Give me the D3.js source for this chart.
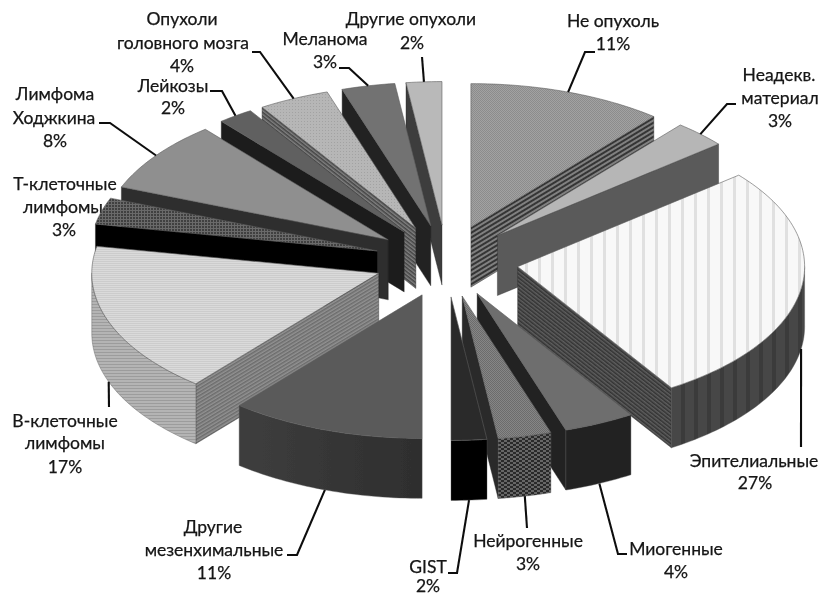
<!DOCTYPE html>
<html><head><meta charset="utf-8">
<script src="https://cdn.jsdelivr.net/npm/d3@7"></script>
<style>html,body{margin:0;padding:0;background:#fff}svg{display:block}text{font-family:Lato,"Open Sans",sans-serif;font-size:17.5px;fill:#141414;stroke:#141414;stroke-width:.25;text-anchor:middle}</style>
</head><body><svg id="c" width="818" height="597"></svg>
<script>
// Data (clockwise from 12 o'clock)
const categories=["Не опухоль","Неадекв. материал","Эпителиальные","Миогенные","Нейрогенные","GIST","Другие мезенхимальные","В-клеточные лимфомы","Т-клеточные лимфомы","Лимфома Ходжкина","Лейкозы","Опухоли головного мозга","Меланома","Другие опухоли"];
const values=[11,3,27,4,3,2,11,17,3,8,2,4,3,2];

// Label layout: text lines with centre x / baselines, leader elbow points
const labelLines=[
 [["Не опухоль",613,27],["%",613,50]],
 [["Неадекв.",779,81],["материал",780,104],["%",780,127]],
 [["Эпителиальные",754,467],["%",755,489]],
 [["Миогенные",676,555],["%",676,578]],
 [["Нейрогенные",528,547],["%",528,570]],
 [["GIST",428,573],["%",428,592]],
 [["Другие",213,533],["мезенхимальные",214,556],["%",214,579]],
 [["В-клеточные",65,427],["лимфомы",65,449],["%",65,473]],
 [["Т-клеточные",65,190],["лимфомы",63,213],["%",64,236]],
 [["Лимфома",55,100],["Ходжкина",54,124],["%",55,147]],
 [["Лейкозы",173,92],["%",173,114]],
 [["Опухоли",182,25],["головного мозга",183,49],["%",182,72]],
 [["Меланома",325,45],["%",325,68]],
 [["Другие опухоли",411,25],["%",412,49]]];
const leaderBends=[
 [[585,52],[595,52]],[[727,104],[736,104]],[[801,447]],[[618,554],[627,554]],[[527,528]],
 [[457,573],[448,573]],[[297,555],[287,555]],[[109,407]],null,[[110,123],[99,123]],
 [[222,91],[210,91]],[[260,52],[252,52]],[[349,68],[339,68]],[[422,57]]];

// Styles per slice: top face, radial wall, outer wall
const topFill=["p-hatch1","#b6b6b6","p-vert","#6e6e6e","p-hatch2","#2a2a2a","#5a5a5a","p-fine","p-cross","#8f8f8f","#616161","p-dots","#727272","#b9b9b9"];
const wallFill=["s:#343434:#808080:4","#5a5a5a","s:#333:#5e5e5e:3","#222","#2a2a2a","#2a2a2a","#333","s:#6c6c6c:#929292:3","#000","#2d2d2d","#1c1c1c","s:#444:#808080:3","#222","#3c3c3c"];
const rimFill=["#333","#5a5a5a","p-vertdark","#232323","p-check","#000","url(#g-mez)","p-wave","#333","#333","#222","#444","#222","#3c3c3c"];

const svg=d3.select("#c");
const defs=svg.append("defs");
defs.append("filter").attr("id","soft").append("feGaussianBlur").attr("stdDeviation",0.5);
const g=defs.append("linearGradient").attr("id","g-mez");
g.append("stop").attr("offset",0).attr("stop-color","#3e3e3e");
g.append("stop").attr("offset",1).attr("stop-color","#2e2e2e");
function pat(id,w,h,bg,draw,tr){
  const p=defs.append("pattern").attr("id",id).attr("width",w).attr("height",h).attr("patternUnits","userSpaceOnUse");
  if(tr)p.attr("patternTransform",tr);
  p.append("rect").attr("width",w).attr("height",h).attr("fill",bg);
  draw(p);
}
const R=(p,x,y,w,h,c)=>p.append("rect").attr("x",x).attr("y",y).attr("width",w).attr("height",h).attr("fill",c);
pat("p-hatch1",2,2,"#a2a2a2",p=>{R(p,0,0,1,1,"#8c8c8c");R(p,1,1,1,1,"#8c8c8c");});
pat("p-hatch2",2,2,"#868686",p=>{R(p,0,0,1,1,"#6c6c6c");R(p,1,1,1,1,"#6c6c6c");});
pat("p-vert",13,4,"#f8f8f8",p=>R(p,5,0,3,4,"#e0e0e0"));
pat("p-vertdark",13,4,"#474747",p=>R(p,5,0,4,4,"#3a3a3a"));
pat("p-fine",2,2,"#dadada",p=>R(p,0,1,2,1,"#cccccc"));
pat("p-wave",2,3,"#b4b4b4",p=>R(p,0,1,2,1,"#9c9c9c"));
pat("p-cross",3,3,"#404040",p=>{R(p,0,0,1,3,"#6a6a6a");R(p,0,0,3,1,"#6a6a6a");});
pat("p-dots",3,3,"#b6b6b6",p=>R(p,1,1,1,1,"#a2a2a2"));
pat("p-check",6,4,"#2a2a2a",p=>{R(p,0,0,3,2,"#666");R(p,3,2,3,2,"#666");});

// Projection of the tilted, exploded pie
const cx=446.5,cy=261,radius=287,tilt=0.5,explode=72,depth=60;
const px=d3.scaleLinear().domain([0,1]).range([0,radius]);
const py=d3.scaleLinear().domain([0,1]).range([0,radius*tilt]);
const rx=d3.scaleLinear().domain([0,1]).range([0,explode]);
const ry=d3.scaleLinear().domain([0,1]).range([0,explode*tilt]);
const arcs=d3.pie().sort(null).value(v=>v)(values).map((a,i)=>{
  const mid=(a.startAngle+a.endAngle)/2;
  return {i,start:a.startAngle,end:a.endAngle,mid,ax:cx+rx(Math.sin(mid)),ay:cy-ry(Math.cos(mid))};
});
const rim=(d,t,dz=0)=>[d.ax+px(Math.sin(t)),d.ay-py(Math.cos(t))+dz];
const samples=(a,b)=>{const n=Math.max(2,Math.ceil((b-a)/0.02));return d3.range(n+1).map(k=>a+(b-a)*k/n);};
const line=d3.line();
let wallPat=0;
function paint(f,angle){
  if(f.startsWith("s:")){
    const [,c1,c2,per]=f.split(":");const id="w"+(wallPat++);
    pat(id,8,+per,c1,p=>R(p,0,0,8,per/2,c2),`rotate(${angle})`);
    return `url(#${id})`;
  }
  if(f.startsWith("p-"))return `url(#${f})`;
  return f;
}

const root=svg.append("g").attr("filter","url(#soft)");
// Texts sit beneath the pie
const tg=root.append("g");
labelLines.forEach((ls,i)=>ls.forEach(([t,x,y])=>tg.append("text").attr("x",x).attr("y",y).text(t==="%"?values[i]+"%":t)));

const order=arcs.slice().sort((a,b)=>d3.descending(Math.cos(a.mid),Math.cos(b.mid)));
const pg=root.append("g");
const HALF=Math.PI;
order.forEach(d=>{
  const i=d.i,gs=pg.append("g");
  // radial wall facing the viewer
  const wt=d.mid<HALF?d.end:d.start;
  const vis=d.mid<HALF?(d.end<HALF-1e-6):(d.start>HALF+1e-6);
  if(vis){
    const p=rim(d,wt),q=rim(d,wt,depth);
    const ang=Math.atan2(p[1]-d.ay,p[0]-d.ax)*180/Math.PI;
    gs.append("path").attr("d",line([[d.ax,d.ay],p,q,[d.ax,d.ay+depth]])+"Z")
      .attr("fill",paint(wallFill[i],ang)).attr("stroke","#2a2a2a").attr("stroke-width",0.4);
  }
  // outer wall on the front half
  const a0=Math.max(d.start,HALF/2),a1=Math.min(d.end,HALF*1.5);
  if(a1>a0){
    const ts=samples(a0,a1);
    const pts=ts.map(t=>rim(d,t)).concat(ts.slice().reverse().map(t=>rim(d,t,depth)));
    gs.append("path").attr("d",line(pts)+"Z").attr("fill",paint(rimFill[i],0)).attr("stroke","#555").attr("stroke-width",0.4);
  }
  // top face
  const top=[[d.ax,d.ay]].concat(samples(d.start,d.end).map(t=>rim(d,t)));
  gs.append("path").attr("d",line(top)+"Z").attr("fill",paint(topFill[i],0)).attr("stroke","#5c5c5c").attr("stroke-width",0.6);
});

// Leaders: start on the slice rim at its mid-angle
const lg=root.append("g");
arcs.forEach(d=>{
  const b=leaderBends[d.i]; if(!b)return;
  const front=Math.cos(d.mid)<0;
  const s=rim(d,d.mid,front?depth:0);
  lg.append("path").attr("d",line([s].concat(b))).attr("fill","none").attr("stroke","#111").attr("stroke-width",2.1);
});
</script></body></html>
